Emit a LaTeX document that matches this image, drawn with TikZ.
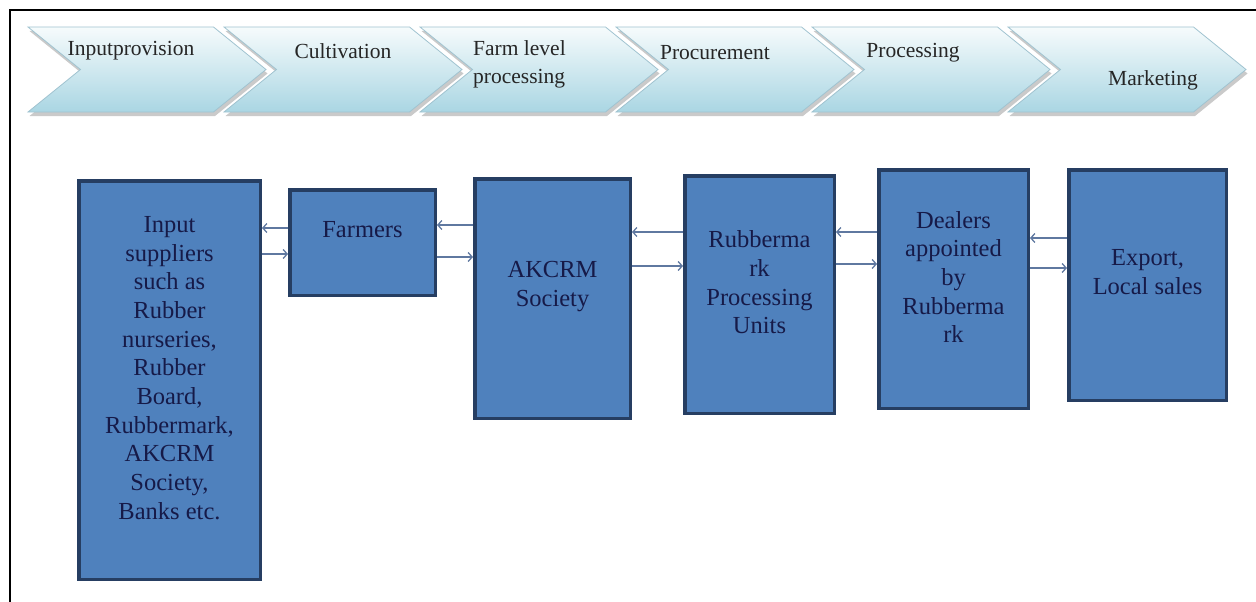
\documentclass[tikz,border=0pt]{standalone}
\usepackage{fontspec}
\setmainfont{Liberation Serif}
\newfontfamily\chartfont{Liberation Serif}
\usepackage{xcolor}
\usetikzlibrary{arrows,arrows.meta,shapes,shadows}

\definecolor{boxfill}{RGB}{79,129,189}
\definecolor{boxline}{RGB}{38,62,98}
\definecolor{navytext}{RGB}{22,26,72}
\definecolor{flowline}{RGB}{95,120,160}
\definecolor{chevtop}{RGB}{246,251,252}
\definecolor{chevbot}{RGB}{170,214,227}
\definecolor{chevline}{RGB}{160,195,208}

\begin{document}
\begin{tikzpicture}[x=1pt,y=-1pt,
    chev/.style={signal, signal from=west, signal to=east, signal pointer angle=78,
        minimum width=238pt, minimum height=85pt, inner sep=0pt,
        draw=chevline, line width=0.8pt, top color=chevtop, bottom color=chevbot,
        drop shadow={shadow xshift=1.5pt, shadow yshift=-4pt, fill=black!35, opacity=0.6}},
    chevtext/.style={font=\chartfont\fontsize{21.5}{28}\selectfont, text=black!85, align=left, inner sep=0pt},
    box/.style={draw=boxline, line width=3.5pt, fill=boxfill, inner sep=0pt},
    boxtext/.style={font=\chartfont\fontsize{24.5}{28.7}\selectfont, text=navytext, align=center, inner sep=0pt},
    flow/.style={-{Straight Barb[length=4pt,width=9pt]}, draw=flowline, line width=1.3pt}]
        \useasboundingbox (0,0) rectangle (1256,602);
        \draw[line width=2pt] (10,602) -- (10,10) -- (1256,10);

        % value chain stages
        \foreach \i in {0,...,5}
            \node[chev] (s\i) at (147+196*\i,69.5) {};
        \node[chevtext] (t0) at (131,51) {Inputprovision};
        \node[chevtext] (t1) at (343,51) {Cultivation};
        \node[chevtext, anchor=west] (t2) at (473,64) {Farm level\\processing};
        \node[chevtext] (t3) at (715,53) {Procurement};
        \node[chevtext] (t4) at (913,53) {Processing};
        \node[chevtext] (t5) at (1153,80) {Marketing};

        % actors
        \node[box, minimum width=181.5pt, minimum height=398.5pt] (in) at (169.5,380) {};
        \node[box, minimum width=145.5pt, minimum height=105.5pt] (farm) at (362.5,242.5) {};
        \node[box, minimum width=155.5pt, minimum height=239.5pt] (akcrm) at (552.5,298.5) {};
        \node[box, minimum width=149.5pt, minimum height=237.5pt] (unit) at (759.5,294.5) {};
        \node[box, minimum width=149.5pt, minimum height=238.5pt] (dealer) at (953.5,289) {};
        \node[box, minimum width=157.5pt, minimum height=230.5pt] (sales) at (1147.5,285) {};

        \node[boxtext] (inT) at ([yshift=12pt]in.center)
            {Input\\suppliers\\such as\\Rubber\\nurseries,\\Rubber\\Board,\\Rubbermark,\\AKCRM\\Society,\\Banks etc.};
        \node[boxtext] (farmT) at ([yshift=13pt]farm.center) {Farmers};
        \node[boxtext] (akcrmT) at ([yshift=12pt]akcrm.center) {AKCRM\\Society};
        \node[boxtext] (unitT) at ([yshift=12pt]unit.center) {Rubberma\\rk\\Processing\\Units};
        \node[boxtext] (dealerT) at ([yshift=12pt]dealer.center) {Dealers\\appointed\\by\\Rubberma\\rk};
        \node[boxtext] (salesT) at ([yshift=13pt]sales.center) {Export,\\Local sales};

        % flows
        \draw[flow] (farm.west |- 0,228) -- (in.east |- 0,228);
        \draw[flow] (in.east |- 0,254) -- (farm.west |- 0,254);
        \draw[flow] (akcrm.west |- 0,225) -- (farm.east |- 0,225);
        \draw[flow] (farm.east |- 0,257) -- (akcrm.west |- 0,257);
        \draw[flow] (unit.west |- 0,232) -- (akcrm.east |- 0,232);
        \draw[flow] (akcrm.east |- 0,266) -- (unit.west |- 0,266);
        \draw[flow] (dealer.west |- 0,232) -- (unit.east |- 0,232);
        \draw[flow] (unit.east |- 0,264) -- (dealer.west |- 0,264);
        \draw[flow] (sales.west |- 0,238) -- (dealer.east |- 0,238);
        \draw[flow] (dealer.east |- 0,268) -- (sales.west |- 0,268);
    \end{tikzpicture}
\end{document}
